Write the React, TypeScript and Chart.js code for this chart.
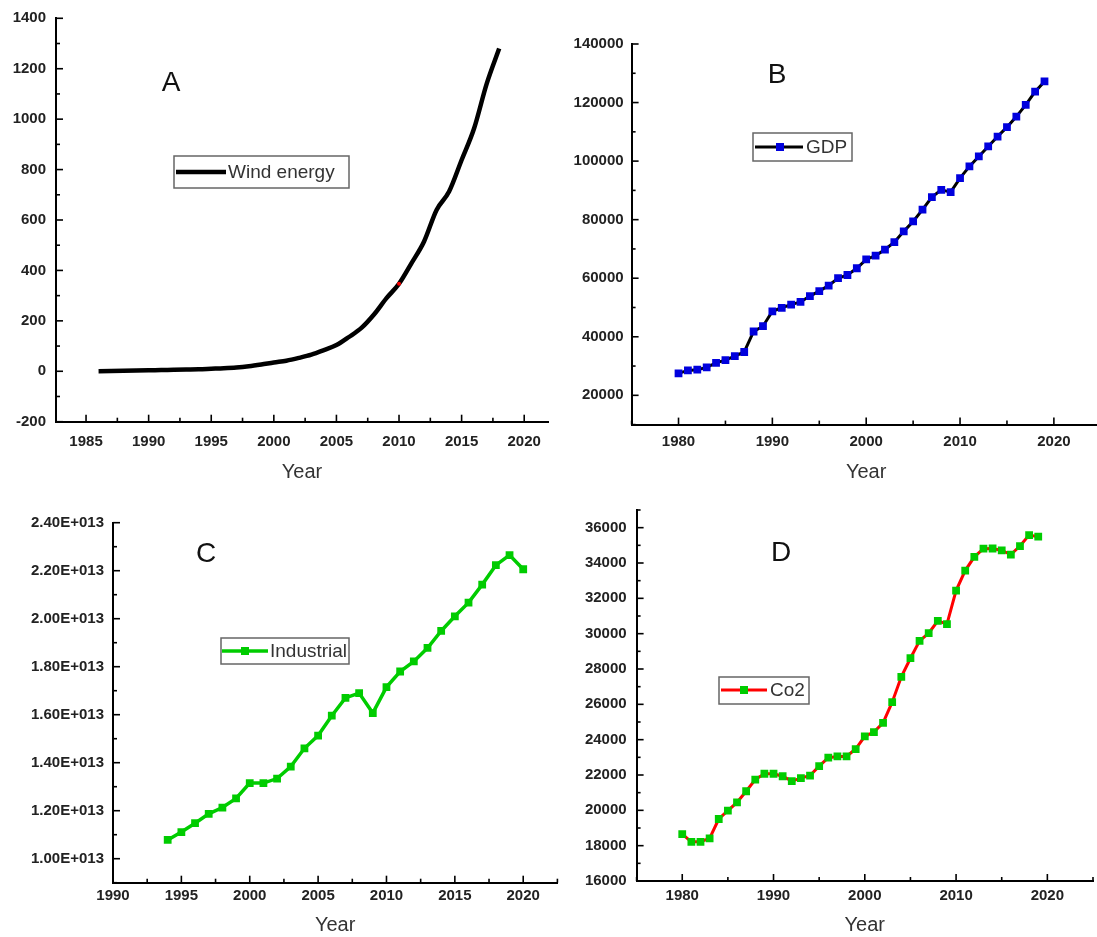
import React, { useEffect, useRef } from 'react';
import { Chart, registerables } from 'chart.js';
Chart.register(...registerables);

// ---------- DATA ----------
const windYears = [1986, 1987, 1988, 1989, 1990, 1991, 1992, 1993, 1994, 1995, 1996, 1997, 1998, 1999, 2000, 2001, 2002, 2003, 2004, 2005, 2006, 2007, 2008, 2009, 2010, 2011, 2012, 2013, 2014, 2015, 2016, 2017, 2018];
const windValues = [0, 1, 2, 3, 4, 5, 6, 7, 8, 10, 12, 15, 20, 27, 35, 42, 53, 66, 84, 104, 136, 172, 225, 290, 347, 429, 515, 640, 713, 838, 964, 1140, 1280];

const gdpYears = [1980, 1981, 1982, 1983, 1984, 1985, 1986, 1987, 1988, 1989, 1990, 1991, 1992, 1993, 1994, 1995, 1996, 1997, 1998, 1999, 2000, 2001, 2002, 2003, 2004, 2005, 2006, 2007, 2008, 2009, 2010, 2011, 2012, 2013, 2014, 2015, 2016, 2017, 2018, 2019];
const gdpValues = [27500, 28500, 28750, 29550, 31100, 32000, 33400, 34800, 41800, 43600, 48700, 49900, 51000, 51900, 53900, 55600, 57500, 60000, 61100, 63400, 66400, 67700, 69800, 72300, 76000, 79400, 83400, 87700, 90200, 89400, 94200, 98200, 101600, 105000, 108400, 111600, 115200, 119200, 123700, 127200];

const industrialYears = [1994, 1995, 1996, 1997, 1998, 1999, 2000, 2001, 2002, 2003, 2004, 2005, 2006, 2007, 2008, 2009, 2010, 2011, 2012, 2013, 2014, 2015, 2016, 2017, 2018, 2019, 2020];
const industrialValues = [1.078e13, 1.111e13, 1.148e13, 1.187e13, 1.213e13, 1.251e13, 1.315e13, 1.315e13, 1.334e13, 1.384e13, 1.460e13, 1.513e13, 1.596e13, 1.670e13, 1.690e13, 1.607e13, 1.715e13, 1.780e13, 1.822e13, 1.878e13, 1.949e13, 2.010e13, 2.067e13, 2.142e13, 2.223e13, 2.265e13, 2.206e13];

const co2Years = [1980, 1981, 1982, 1983, 1984, 1985, 1986, 1987, 1988, 1989, 1990, 1991, 1992, 1993, 1994, 1995, 1996, 1997, 1998, 1999, 2000, 2001, 2002, 2003, 2004, 2005, 2006, 2007, 2008, 2009, 2010, 2011, 2012, 2013, 2014, 2015, 2016, 2017, 2018, 2019];
const co2Values = [18650, 18220, 18220, 18410, 19510, 19980, 20450, 21080, 21740, 22070, 22070, 21930, 21650, 21820, 21970, 22500, 22980, 23050, 23050, 23470, 24190, 24430, 24950, 26120, 27560, 28610, 29590, 30030, 30730, 30540, 32440, 33570, 34350, 34810, 34820, 34710, 34480, 34960, 35580, 35490];

// ---------- TICKS ----------
const xTicksA = [1985, 1990, 1995, 2000, 2005, 2010, 2015, 2020];
const yTicksA = [-200, 0, 200, 400, 600, 800, 1000, 1200, 1400];
const xTicksB = [1980, 1990, 2000, 2010, 2020];
const yTicksB = [20000, 40000, 60000, 80000, 100000, 120000, 140000];
const xTicksC = [1990, 1995, 2000, 2005, 2010, 2015, 2020];
const yTicksC = [1.0e13, 1.2e13, 1.4e13, 1.6e13, 1.8e13, 2.0e13, 2.2e13, 2.4e13];
const xTicksD = [1980, 1990, 2000, 2010, 2020];
const yTicksD = [16000, 18000, 20000, 22000, 24000, 26000, 28000, 30000, 32000, 34000, 36000];

const legendA = 'Wind energy';
const legendB = 'GDP';
const legendC = 'Industrial';
const legendD = 'Co2';

// minor ticks halfway between majors, one extra on each side, kept within range
function minors(majors: number[], min: number, max: number) {
  const step = majors[1] - majors[0];
  const out: number[] = [];
  for (let i = -1; i < majors.length; i++) {
    const v = majors[0] + step * i + step / 2;
    if (v >= min - 1e-9 && v <= max + 1e-9) out.push(v);
  }
  return out;
}

const TICK_FONT = { family: '"Liberation Sans", Arial, sans-serif', size: 15, weight: 'bold' as const };
const TITLE_FONT = { family: '"Liberation Sans", Arial, sans-serif', size: 20, weight: 'normal' as const };
const GREEN = '#00cc00';

type PanelCfg = {
  l: number; t: number; r: number; b: number;
  yW: number; padRight: number; xTitleY: number;
  xMin: number; xMax: number; yMin: number; yMax: number;
  xMajor: number[]; yMajor: number[];
  yFmt: (v: number) => string;
  xPad: number; yPad: number;
  datasets: any[];
  letter: { text: string; x: number; y: number };
  legend: { box: [number, number, number, number]; lineX: [number, number]; y: number; markerX?: number; textX: number; text: string; lineColor: string; lineWidth: number; markerColor?: string };
};

const panels: PanelCfg[] = [
  {
    l: 56, t: 18.3, r: 548, b: 421.7, yW: 56, padRight: 10, xTitleY: 471.5,
    xMin: 1982.6, xMax: 2021.9, yMin: -200, yMax: 1400,
    xMajor: xTicksA, yMajor: yTicksA, yFmt: (v) => String(v), xPad: 11, yPad: 10,
    datasets: [{
      data: windYears.map((x, i) => ({ x, y: windValues[i] })),
      borderColor: '#000', borderWidth: 4.5,
      cubicInterpolationMode: 'monotone',
      pointRadius: windYears.map((y) => (y === 2010 ? 2 : 0)),
      pointBackgroundColor: '#ff0000', pointBorderWidth: 0,
    }],
    letter: { text: 'A', x: 171, y: 83 },
    legend: { box: [174, 156, 349, 188], lineX: [176, 226], y: 172, textX: 228, text: legendA, lineColor: '#000', lineWidth: 4.5 },
  },
  {
    l: 631.6, t: 44, r: 1100.8, b: 424.6, yW: 70, padRight: 10, xTitleY: 471.5,
    xMin: 1975, xMax: 2025, yMin: 10000, yMax: 140000,
    xMajor: xTicksB, yMajor: yTicksB, yFmt: (v) => String(v), xPad: 8, yPad: 8,
    datasets: [{
      data: gdpYears.map((x, i) => ({ x, y: gdpValues[i] })),
      borderColor: '#000', borderWidth: 3,
      pointStyle: 'rect', pointRadius: 5.5, pointBackgroundColor: '#0000dd', pointBorderWidth: 0,
    }],
    letter: { text: 'B', x: 777, y: 75 },
    legend: { box: [753, 133, 852, 161], lineX: [755, 803], y: 147, markerX: 780, textX: 806, text: legendB, lineColor: '#000', lineWidth: 3, markerColor: '#0000dd' },
  },
  {
    l: 113, t: 522.7, r: 557.4, b: 882.7, yW: 100, padRight: 10, xTitleY: 925,
    xMin: 1990, xMax: 2022.5, yMin: 0.9e13, yMax: 2.4e13,
    xMajor: xTicksC, yMajor: yTicksC, yFmt: (v) => (v / 1e13).toFixed(2) + 'E+013', xPad: 4.5, yPad: 9,
    datasets: [{
      data: industrialYears.map((x, i) => ({ x, y: industrialValues[i] })),
      borderColor: GREEN, borderWidth: 3.5,
      pointStyle: 'rect', pointRadius: 5.5, pointBackgroundColor: GREEN, pointBorderWidth: 0,
    }],
    letter: { text: 'C', x: 206, y: 554 },
    legend: { box: [221, 638, 349, 664], lineX: [222, 268], y: 651, markerX: 245, textX: 270, text: legendC, lineColor: GREEN, lineWidth: 3.5, markerColor: GREEN },
  },
  {
    l: 636.6, t: 510, r: 1093, b: 881, yW: 70, padRight: 10, xTitleY: 925,
    xMin: 1975, xMax: 2025, yMin: 16000, yMax: 37000,
    xMajor: xTicksD, yMajor: yTicksD, yFmt: (v) => String(v), xPad: 6, yPad: 10,
    datasets: [{
      data: co2Years.map((x, i) => ({ x, y: co2Values[i] })),
      borderColor: '#ff0000', borderWidth: 3,
      pointStyle: 'rect', pointRadius: 5.5, pointBackgroundColor: GREEN, pointBorderWidth: 0,
    }],
    letter: { text: 'D', x: 781, y: 553 },
    legend: { box: [719, 677, 809, 704], lineX: [721, 767], y: 690, markerX: 744, textX: 770, text: legendD, lineColor: '#ff0000', lineWidth: 3, markerColor: GREEN },
  },
];

function geometry(p: PanelCfg) {
  const left = Math.round(p.l - p.yW);
  const top = Math.round(p.t - 22);
  const yW = p.l - left;
  const padTop = p.t - top;
  const width = Math.ceil(p.r - left + p.padRight);
  const padRight = width - (p.r - left);
  // title centre = canvasBottom - 2 - lineHeight/2 (lineHeight 24)
  const height = Math.round(p.xTitleY + 14 - top);
  const xH = top + height - p.b;
  return { left, top, width, height, yW, padTop, padRight, xH };
}

function makeOverlay(p: PanelCfg, ox: number, oy: number) {
  return {
    id: 'overlay',
    afterDraw(chart: any) {
      const ctx = chart.ctx as CanvasRenderingContext2D;
      const xs = chart.scales.x, ys = chart.scales.y;
      const area = chart.chartArea;
      ctx.save();
      // inward ticks
      ctx.strokeStyle = '#000';
      ctx.lineWidth = 1.6;
      const drawX = (vals: number[], len: number) => vals.forEach((v) => {
        const px = xs.getPixelForValue(v);
        ctx.beginPath(); ctx.moveTo(px, area.bottom); ctx.lineTo(px, area.bottom - len); ctx.stroke();
      });
      const drawY = (vals: number[], len: number) => vals.forEach((v) => {
        const py = ys.getPixelForValue(v);
        ctx.beginPath(); ctx.moveTo(area.left, py); ctx.lineTo(area.left + len, py); ctx.stroke();
      });
      drawX(p.xMajor, 7); drawX(minors(p.xMajor, p.xMin, p.xMax), 4);
      drawY(p.yMajor, 7); drawY(minors(p.yMajor, p.yMin, p.yMax), 4);

      // letter
      ctx.fillStyle = '#111';
      ctx.font = '28px "Liberation Sans", Arial, sans-serif';
      ctx.textAlign = 'center';
      ctx.textBaseline = 'middle';
      ctx.fillText(p.letter.text, p.letter.x - ox, p.letter.y - oy);

      // legend
      const lg = p.legend;
      const [bx1, by1, bx2, by2] = lg.box;
      ctx.fillStyle = '#fff';
      ctx.fillRect(bx1 - ox, by1 - oy, bx2 - bx1, by2 - by1);
      ctx.strokeStyle = '#666';
      ctx.lineWidth = 1.5;
      ctx.strokeRect(bx1 - ox, by1 - oy, bx2 - bx1, by2 - by1);
      ctx.strokeStyle = lg.lineColor;
      ctx.lineWidth = lg.lineWidth;
      ctx.beginPath(); ctx.moveTo(lg.lineX[0] - ox, lg.y - oy); ctx.lineTo(lg.lineX[1] - ox, lg.y - oy); ctx.stroke();
      if (lg.markerX !== undefined && lg.markerColor) {
        ctx.fillStyle = lg.markerColor;
        ctx.fillRect(lg.markerX - 4 - ox, lg.y - 4 - oy, 8, 8);
      }
      ctx.fillStyle = '#333';
      ctx.font = '19px "Liberation Sans", Arial, sans-serif';
      ctx.textAlign = 'left';
      ctx.textBaseline = 'middle';
      ctx.fillText(lg.text, lg.textX - ox, lg.y - oy + 1);
      ctx.restore();
    },
  };
}

function Panel({ p }: { p: PanelCfg }) {
  const ref = useRef<HTMLCanvasElement>(null);
  const g = geometry(p);
  useEffect(() => {
    if (!ref.current) return;
    const chart = new Chart(ref.current, {
      type: 'line',
      data: { datasets: p.datasets },
      options: {
        animation: false,
        responsive: false,
        maintainAspectRatio: false,
        devicePixelRatio: 1,
        layout: { padding: { left: 0, top: g.padTop, right: g.padRight, bottom: 0 } },
        plugins: { legend: { display: false }, tooltip: { enabled: false } },
        scales: {
          x: {
            type: 'linear', min: p.xMin, max: p.xMax,
            afterBuildTicks: (s: any) => { s.ticks = p.xMajor.map((v) => ({ value: v })); },
            afterFit: (s: any) => { s.height = g.xH; },
            grid: { display: false, drawTicks: false },
            border: { display: true, color: '#000', width: 2 },
            ticks: { padding: p.xPad, font: TICK_FONT, color: '#222', autoSkip: false, maxRotation: 0, callback: (v: any) => String(v) },
            title: { display: true, text: 'Year', font: TITLE_FONT, color: '#333', padding: { top: 0, bottom: 2 } },
          },
          y: {
            type: 'linear', min: p.yMin, max: p.yMax,
            afterBuildTicks: (s: any) => { s.ticks = p.yMajor.map((v) => ({ value: v })); },
            afterFit: (s: any) => { s.width = g.yW; },
            grid: { display: false, drawTicks: false },
            border: { display: true, color: '#000', width: 2 },
            ticks: { padding: p.yPad, font: TICK_FONT, color: '#222', autoSkip: false, callback: (v: any) => p.yFmt(Number(v)) },
          },
        },
      } as any,
      plugins: [makeOverlay(p, g.left, g.top)],
    });
    return () => chart.destroy();
  }, []);
  return (
    <canvas
      ref={ref}
      width={g.width}
      height={g.height}
      style={{ position: 'absolute', left: g.left, top: g.top, width: g.width, height: g.height }}
    />
  );
}

export default function App() {
  useEffect(() => {
    document.body.style.margin = '0';
    document.body.style.overflow = 'hidden';
  }, []);
  return (
    <div style={{ position: 'relative', width: 1097, height: 937, overflow: 'hidden', background: '#fff' }}>
      {panels.map((p, i) => <Panel key={i} p={p} />)}
    </div>
  );
}
